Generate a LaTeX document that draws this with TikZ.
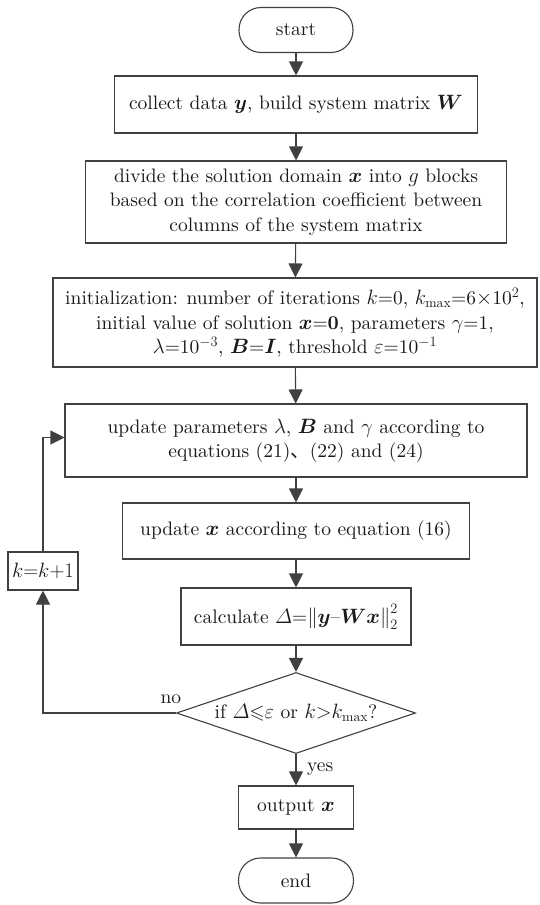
\documentclass[tikz,border=0pt]{standalone}
\usepackage{amsmath,amssymb,bm}
\usepackage{fontspec}
\setmainfont{lmroman10-regular.otf}[
  BoldFont=lmroman10-bold.otf,
  ItalicFont=lmroman10-italic.otf,
  BoldItalicFont=lmroman10-bolditalic.otf]
\newfontfamily\cjk{Noto Sans CJK SC}
\usetikzlibrary{arrows.meta,shapes.geometric}

\definecolor{linegray}{HTML}{404040}
\definecolor{inkblack}{HTML}{1A1A1A}

\tikzset{
  base/.style={draw=linegray, line width=1.1pt, text=inkblack, align=center,
    inner sep=0pt, font=\fontsize{19.5}{24.5}\selectfont},
  terminal/.style={base, rectangle, rounded corners=22pt},
  procbox/.style={base, rectangle},
  decision/.style={base, diamond, aspect=3},
  arr/.style={draw=linegray, line width=1.1pt,
    -{Triangle[width=14pt,length=14pt]}},
  lbl/.style={text=inkblack, font=\fontsize{19.5}{22}\selectfont, inner sep=0pt}
}

\begin{document}
\begin{tikzpicture}[x=1pt,y=-1pt]
\useasboundingbox (0,0) rectangle (539,905);

\node[terminal, minimum width=114pt, minimum height=45pt] (start) at (296,30) {start};

\node[procbox, minimum width=363pt, minimum height=57pt] (collect) at (296,104.5)
  {collect data $\bm{y}$, build system matrix $\bm{W}$};

\node[procbox, minimum width=421pt, minimum height=82pt] (divide) at (296,202)
  {divide the solution domain $\bm{x}$ into $g$ blocks\\
   based on the correlation coefficient between\\
   columns of the system matrix};

\node[procbox, minimum width=484pt, minimum height=89pt] (init) at (295,322.5)
  {initialization: number of iterations $k$=0, $k_{\max}$=6$\times$10$^2$,\\
   initial value of solution $\bm{x}$=\textbf{0}, parameters $\gamma$=1,\\
   $\lambda$=10$^{-3}$, $\bm{B}$=$\bm{I}$, threshold $\varepsilon$=10$^{-1}$};

\node[procbox, minimum width=462pt, minimum height=73pt] (upd) at (296,440.5)
  {update parameters $\lambda$, $\bm{B}$ and $\gamma$ according to\\
   equations (21){\cjk 、}(22) and (24)};

\node[procbox, minimum width=347pt, minimum height=56pt] (updx) at (296,531)
  {update $\bm{x}$ according to equation (16)};

\node[procbox, minimum width=230pt, minimum height=57pt] (calc) at (296,616.5)
  {calculate $\varDelta$=$\left\|\bm{y}\text{--}\bm{W}\bm{x}\right\|_2^2$};

\node[decision, minimum width=239pt, minimum height=81pt] (dia) at (296,713)
  {if $\varDelta{\leqslant}\varepsilon$ or $k{>}k_{\max}$?};

\node[procbox, minimum width=115pt, minimum height=43pt] (out) at (296,807.5)
  {output $\bm{x}$};

\node[terminal, minimum width=115pt, minimum height=45pt] (stop) at (296,880.5) {end};

\node[procbox, minimum width=70pt, minimum height=38pt] (inc) at (43,571) {$k{=}k{+}1$};

% main flow
\draw[arr] (start) -- (collect);
\draw[arr] (collect) -- (divide);
\draw[arr] (divide) -- (init);
\draw[arr] (init) -- (upd);
\draw[arr] (upd) -- (updx);
\draw[arr] (updx) -- (calc);
\draw[arr] (calc) -- (dia);
\draw[arr] (dia) -- (out);
\draw[arr] (out) -- (stop);
\node[lbl, anchor=west] (yes) at ([xshift=11pt,yshift=-15pt]dia.south) {yes};

% loop back
\coordinate (corner) at (dia.west -| inc);
\draw[arr] (dia.west) -- (corner) -- (inc);
\node[lbl, anchor=south] (no) at ([xshift=-5pt,yshift=9pt]dia.west) {no};
\draw[arr] (inc) |- ([yshift=3pt]upd.west);
\end{tikzpicture}
\end{document}
